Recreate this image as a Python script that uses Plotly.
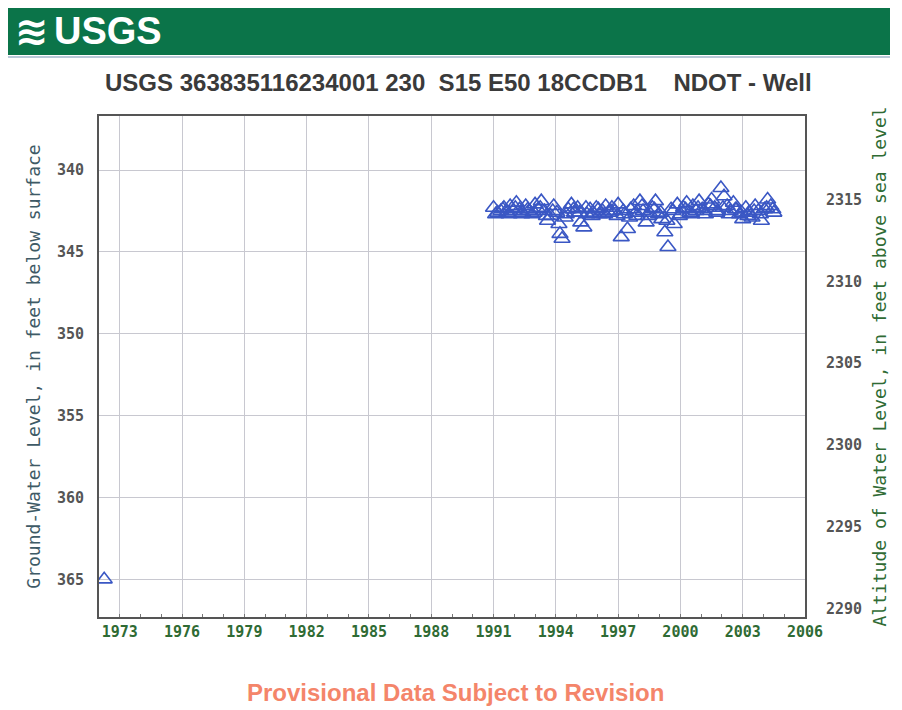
"""USGS ground-water level chart for well 363835116234001 (NDOT - Well)."""

import plotly.graph_objects as go

# single early reading
early_dates = [1972.25]
early_depths = [365.0]

# readings 1991-2004 (decimal years, feet below land surface)
dates = [
    1991.0, 1991.2, 1991.35, 1991.5, 1991.65, 1991.8, 1991.95, 1992.1, 1992.25, 1992.4,
    1992.55, 1992.7, 1992.85, 1993.0, 1993.15, 1993.3, 1993.45, 1993.6, 1993.75, 1993.9,
    1994.05, 1994.2, 1994.3, 1994.45, 1994.6, 1994.75, 1994.9, 1995.05, 1995.2, 1995.35,
    1995.5, 1995.65, 1995.8, 1995.95, 1996.1, 1996.25, 1996.4, 1996.55, 1996.7, 1996.85,
    1997.0, 1997.15, 1997.3, 1997.45, 1997.6, 1997.75, 1997.9, 1998.05, 1998.2, 1998.35,
    1998.5, 1998.65, 1998.8, 1998.95, 1999.1, 1999.25, 1999.4, 1999.55, 1999.7, 1999.85,
    2000.0, 2000.15, 2000.3, 2000.45, 2000.6, 2000.75, 2000.9, 2001.05, 2001.2, 2001.35,
    2001.5, 2001.65, 2001.8, 2001.95, 2002.1, 2002.25, 2002.4, 2002.55, 2002.7, 2002.85,
    2003.0, 2003.15, 2003.3, 2003.45, 2003.6, 2003.75, 2003.9, 2004.05, 2004.2, 2004.35,
    2004.5,
]
depths = [
    342.3, 342.6, 342.5, 342.3, 342.6, 342.2, 342.5, 342.0, 342.4, 342.6,
    342.2, 342.5, 342.7, 342.1, 342.4, 341.9, 342.5, 343.1, 342.8, 342.2,
    342.6, 343.9, 344.2, 342.9, 342.4, 342.1, 342.6, 342.3, 343.2, 343.5,
    342.7, 342.4, 342.6, 342.3, 342.7, 342.5, 342.2, 342.6, 342.3, 342.5,
    342.1, 344.1, 342.7, 343.6, 342.4, 342.2, 342.8, 341.9, 342.5, 343.2,
    342.6, 342.3, 341.9, 342.7, 343.0, 343.8, 344.7, 342.4, 343.3, 342.1,
    342.7, 342.3, 342.0, 342.6, 342.2, 342.5, 341.9, 342.4, 342.7, 342.1,
    341.8, 342.3, 342.5, 341.1, 341.6, 342.2, 342.5, 342.0, 342.4, 342.7,
    343.0, 342.3, 342.6, 342.9, 342.2, 342.5, 343.1, 342.4, 341.8, 342.2,
    342.6,
]
# in-between readings that thicken the band
extra_dates = [
    1991.1, 1991.45, 1991.75, 1992.05, 1992.35, 1992.65, 1992.95, 1993.25, 1993.55, 1993.85,
    1994.15, 1994.5, 1994.85, 1995.15, 1995.45, 1995.75, 1996.05, 1996.35, 1996.65, 1996.95,
    1997.25, 1997.55, 1997.85, 1998.15, 1998.45, 1998.75, 1999.05, 1999.35, 1999.65, 1999.95,
    2000.25, 2000.55, 2000.85, 2001.15, 2001.45, 2001.75, 2002.05, 2002.35, 2002.65, 2002.95,
    2003.25, 2003.55, 2003.85, 2004.15, 2004.45,
]
extra_depths = [
    342.7, 342.4, 342.7, 342.3, 342.7, 342.4, 342.6, 342.3, 342.8, 342.5,
    343.3, 342.7, 342.4, 342.6, 342.3, 342.8, 342.4, 342.7, 342.5, 342.8,
    342.5, 342.9, 342.6, 342.2, 342.8, 342.4, 342.6, 343.1, 342.5, 342.8,
    342.4, 342.7, 342.3, 342.5, 342.2, 342.6, 342.3, 342.7, 342.4, 342.6,
    342.8, 342.5, 342.7, 342.3, 342.4,
]

LAND_SURFACE = 2656.8  # ft above sea level
DEPTH_RANGE = [367.3, 336.7]
X_RANGE = [1972.0, 2006.0]
x_ticks = list(range(1973, 2007, 3))
left_ticks = [340, 345, 350, 355, 360, 365]
right_ticks = [2290, 2295, 2300, 2305, 2310, 2315]

BLUE = "#3a57c4"
GREEN_TXT = "#2f6b34"
GRAY_TXT = "#555555"
MONO = "DejaVu Sans Mono"
NARROW = "Liberation Sans Narrow, Arial Narrow, Liberation Sans, sans-serif"

# page offsets by the browser's 8px body margin; positions below are screenshot pixels
OFF = 8
W, H = 902 - OFF, 710 - OFF
L, R, T, B = 99, 805, 116, 617


def px(x):
    return (x - L) / (R - L)


def py(y):
    return (B - y) / (B - T)


all_x = early_dates + dates + extra_dates
all_y = early_depths + depths + extra_depths

fig = go.Figure()
marker = dict(symbol="triangle-up-open", size=14, color=BLUE, line=dict(width=1.6, color=BLUE))
fig.add_scatter(x=all_x, y=all_y, mode="markers", marker=marker, showlegend=False)
# same readings as altitude, on the right axis (invisible, keeps the axis alive)
fig.add_scatter(x=all_x, y=[LAND_SURFACE - d for d in all_y],
                yaxis="y2", mode="markers", marker=dict(opacity=0),
                hoverinfo="skip", showlegend=False)

fig.update_layout(
    width=W, height=H,
    margin=dict(l=L - OFF, r=W - (R - OFF), t=T - OFF, b=H - (B - OFF), autoexpand=False),
    paper_bgcolor="white", plot_bgcolor="white",
    xaxis=dict(
        range=X_RANGE, tickvals=x_ticks, ticktext=[str(t) for t in x_ticks],
        showgrid=True, gridcolor="#c8c8d0", gridwidth=1,
        ticks="inside", ticklen=0, tickcolor="#888",
        minor=dict(dtick=1, tick0=1973, ticks="inside", ticklen=3, tickcolor="#777", showgrid=False),
        showline=True, linecolor="#555", linewidth=2, mirror=True,
        tickfont=dict(family=MONO, size=15, color=GREEN_TXT, weight="bold"),
        zeroline=False,
    ),
    yaxis=dict(
        range=DEPTH_RANGE, tickvals=left_ticks,
        showgrid=True, gridcolor="#c8c8d0", gridwidth=1,
        showline=True, linecolor="#555", linewidth=2, mirror=True,
        ticks="", ticklabelstandoff=10,
        tickfont=dict(family=MONO, size=15, color=GRAY_TXT, weight="bold"),
        title=dict(text="Ground-Water Level, in feet below surface", standoff=12,
                   font=dict(family=MONO, size=18, color="#3e5a66")),
        zeroline=False,
    ),
    yaxis2=dict(
        range=[LAND_SURFACE - DEPTH_RANGE[0], LAND_SURFACE - DEPTH_RANGE[1]],
        tickvals=right_ticks, overlaying="y", side="right",
        showgrid=False, ticks="", ticklabelstandoff=20,
        tickfont=dict(family=MONO, size=15, color=GRAY_TXT, weight="bold"),
        title=dict(text="Altitude of Water Level, in feet above sea level", standoff=12,
                   font=dict(family=MONO, size=18, color=GREEN_TXT)),
        zeroline=False,
    ),
    shapes=[
        dict(type="rect", xref="paper", yref="paper",
             x0=px(8), x1=px(890), y0=py(55), y1=py(8),
             fillcolor="#0b7449", line=dict(width=0), layer="below"),
        dict(type="line", xref="paper", yref="paper",
             x0=px(8), x1=px(890), y0=py(57), y1=py(57),
             line=dict(color="#b8c8d8", width=2)),
    ],
    annotations=[
        dict(text="<b>≋</b>", xref="paper", yref="paper", x=px(32), y=py(31),
             xanchor="center", yanchor="middle", showarrow=False,
             font=dict(family="DejaVu Sans", size=40, color="white")),
        dict(text="<b>USGS</b>", xref="paper", yref="paper", x=px(52), y=py(31),
             xanchor="left", yanchor="middle", showarrow=False,
             font=dict(family=NARROW, size=38, color="white")),
        dict(text="<b>USGS 363835116234001 230  S15 E50 18CCDB1    NDOT - Well</b>",
             xref="paper", yref="paper", x=px(458), y=py(82),
             xanchor="center", yanchor="middle", showarrow=False,
             font=dict(family=NARROW, size=24, color="#3a3a3a")),
        dict(text="<b>Provisional Data Subject to Revision</b>",
             xref="paper", yref="paper", x=px(455), y=py(692),
             xanchor="center", yanchor="middle", showarrow=False,
             font=dict(family=NARROW, size=24, color="#f4856a")),
    ],
)

fig.write_html("out.html")
